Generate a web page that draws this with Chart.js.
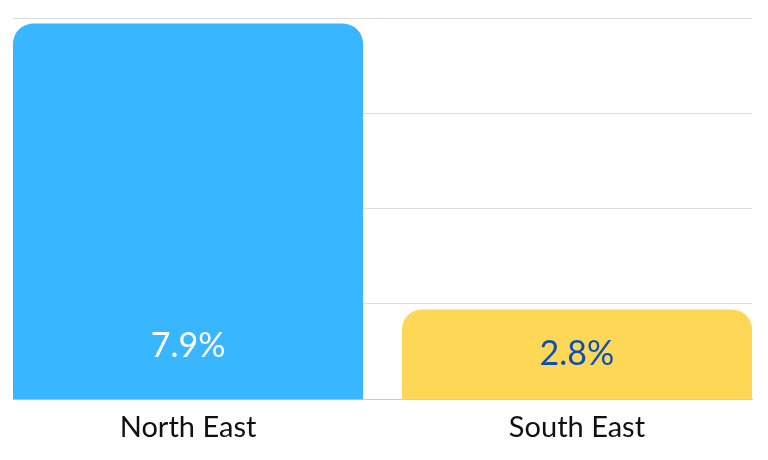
<!DOCTYPE html>
<html>
<head>
<meta charset="utf-8">
<script src="https://cdn.jsdelivr.net/npm/chart.js@4/dist/chart.umd.min.js"></script>
<style>
    html, body { margin: 0; padding: 0; background: #fff; }
    #wrap { width: 768px; height: 460px; }
</style>
</head>
<body>
<div id="wrap"><canvas id="chart"></canvas></div>
<script>
// data
const categories = ['North East', 'South East'];
const values = [7.9, 2.8];
const valueLabels = ['7.9%', '2.8%'];
const barColors = ['#38b6ff', '#ffd757'];
const labelColors = ['#ffffff', '#0d4fb3'];

const FONT = 'Lato, "Open Sans", sans-serif';

// value text inside each bar, near the bottom
const valueLabelPlugin = {
    id: 'valueLabels',
    afterDatasetsDraw(chart) {
        const ctx = chart.ctx;
        const bottom = chart.chartArea.bottom;
        const meta = chart.getDatasetMeta(0);
        ctx.save();
        ctx.font = '34px ' + FONT;
        ctx.textAlign = 'center';
        ctx.textBaseline = 'middle';
        meta.data.forEach((bar, i) => {
            const y = Math.max((bar.y + bottom) / 2, bottom - 53);
            ctx.fillStyle = labelColors[i];
            ctx.fillText(valueLabels[i], bar.x, y);
        });
        ctx.restore();
    }
};

new Chart(document.getElementById('chart'), {
    type: 'bar',
    data: {
        datasets: [{
            data: values.map((v, i) => ({ x: i, y: v })),
            backgroundColor: barColors,
            borderRadius: { topLeft: 20, topRight: 20, bottomLeft: 0, bottomRight: 0 },
            borderSkipped: 'bottom',
            categoryPercentage: 1,
            barPercentage: 0.9
        }]
    },
    options: {
        responsive: true,
        maintainAspectRatio: false,
        animation: false,
        layout: {
            padding: { left: 13, right: 16, top: 18, bottom: 4 }
        },
        plugins: {
            legend: { display: false },
            tooltip: { enabled: false }
        },
        scales: {
            x: {
                type: 'linear',
                offset: false,
                min: -0.45,
                max: 1.45,
                afterBuildTicks(scale) {
                    scale.ticks = categories.map((c, i) => ({ value: i }));
                },
                grid: { display: false, drawTicks: false },
                border: { display: true, color: '#cccccc', width: 1 },
                ticks: {
                    padding: 11,
                    color: '#111',
                    font: { family: FONT, size: 29 },
                    callback: (v) => categories[v]
                }
            },
            y: {
                min: 1.2,
                max: 8,
                ticks: { display: false, count: 5 },
                grid: { color: '#dcdcdc', drawTicks: false },
                border: { display: false }
            }
        }
    },
    plugins: [valueLabelPlugin]
});
</script>
</body>
</html>
